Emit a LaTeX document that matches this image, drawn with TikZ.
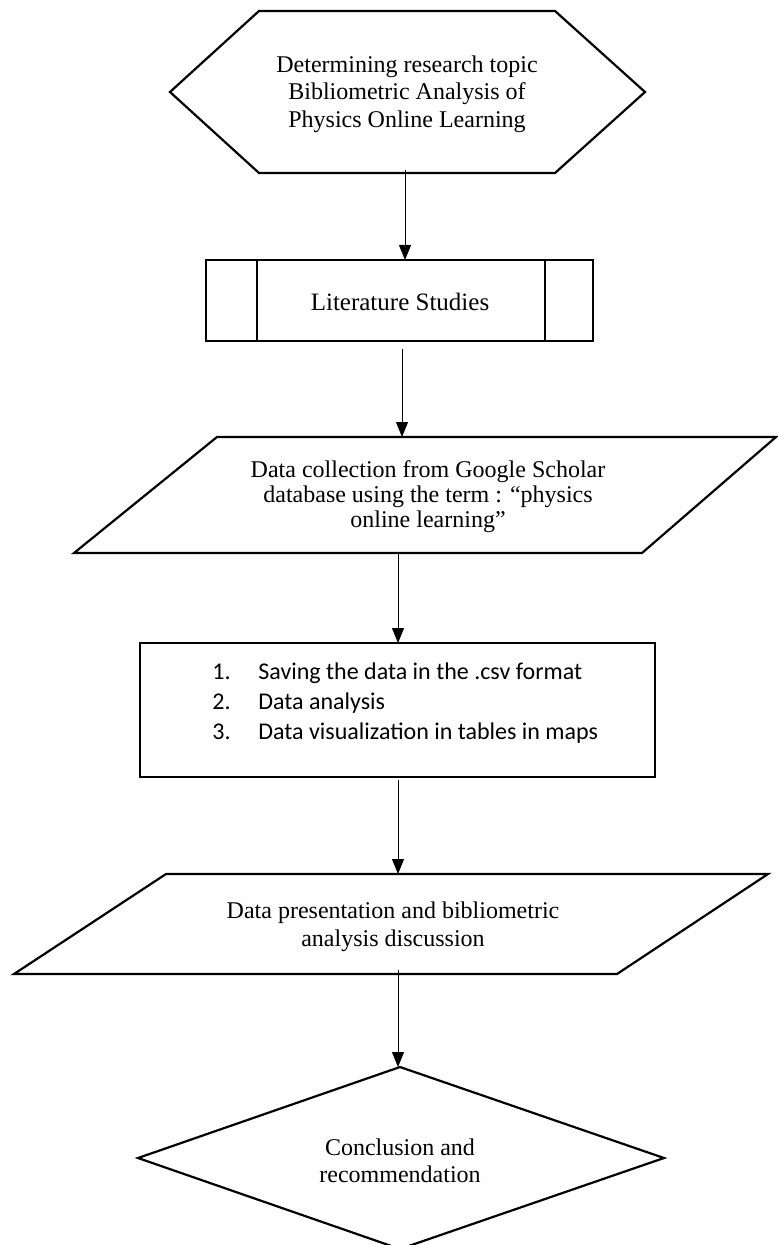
\documentclass[tikz,border=0pt]{standalone}
\usepackage{fontspec}
\setmainfont{Liberation Serif}
\newfontfamily\calfont{Carlito}
\usetikzlibrary{arrows.meta}
\begin{document}
\begin{tikzpicture}[x=0.5pt,y=-0.5pt,
  shapeline/.style={line width=1.1pt, line join=miter},
  conn/.style={line width=0.5pt,-{Triangle[length=7.5pt,width=6pt]}},
  txt/.style={align=center,font=\fontsize{12}{13.75}\selectfont,inner sep=0pt},
  txtb/.style={align=center,font=\fontsize{12}{12.5}\selectfont,inner sep=0pt}]
\useasboundingbox (0,0) rectangle (777,1245);
% hexagon
\draw[shapeline] (170,92) -- (259,11) -- (555,11) -- (645,92) -- (555,173) -- (259,173) -- cycle;
\node[txt] (hex) at (407,94) {Determining research topic\\Bibliometric Analysis of\\Physics Online Learning};
% literature studies
\draw[shapeline] (206,260) rectangle (593,341);
\draw[shapeline] (257,260) -- (257,341);
\draw[shapeline] (545,260) -- (545,341);
\node[txt,font=\fontsize{12.5}{15}\selectfont] (lit) at (400,302) {Literature Studies};
% data collection
\draw[shapeline] (217,437) -- (776,437) -- (642,553) -- (74,553) -- cycle;
\node[txtb] (dc) at (428,497) {Data collection from Google Scholar\\database using the term : “physics\\online learning”};
% list box
\draw[shapeline] (140,643) rectangle (655,777);
\node[anchor=west,align=left,inner sep=0pt,font=\calfont\fontsize{12}{15}\selectfont] (list) at (212,703)
  {\makebox[23pt][l]{1.}Saving the data in the .csv format\\
   \makebox[23pt][l]{2.}Data analysis\\
   \makebox[23pt][l]{3.}Data visualization in tables in maps};
% presentation
\draw[shapeline] (166,874) -- (768,874) -- (617,974) -- (14,974) -- cycle;
\node[txt] (dp) at (393,927) {Data presentation and bibliometric\\analysis discussion};
% diamond
\draw[shapeline] (400,1067) -- (664,1158) -- (400,1249) -- (138,1158) -- cycle;
\node[txt] (cr) at (400,1161) {Conclusion and\\recommendation};
% connectors
\coordinate (a1s) at (405,170); \coordinate (a1e) at (405,260);
\coordinate (a2s) at (402,349); \coordinate (a2e) at (402,437);
\coordinate (a3s) at (398,553); \coordinate (a3e) at (398,643);
\coordinate (a4s) at (398,780); \coordinate (a4e) at (398,874);
\coordinate (a5s) at (398,970); \coordinate (a5e) at (398,1067);
\draw[conn] (a1s) -- (a1e);
\draw[conn] (a2s) -- (a2e);
\draw[conn] (a3s) -- (a3e);
\draw[conn] (a4s) -- (a4e);
\draw[conn] (a5s) -- (a5e);
\end{tikzpicture}
\end{document}
